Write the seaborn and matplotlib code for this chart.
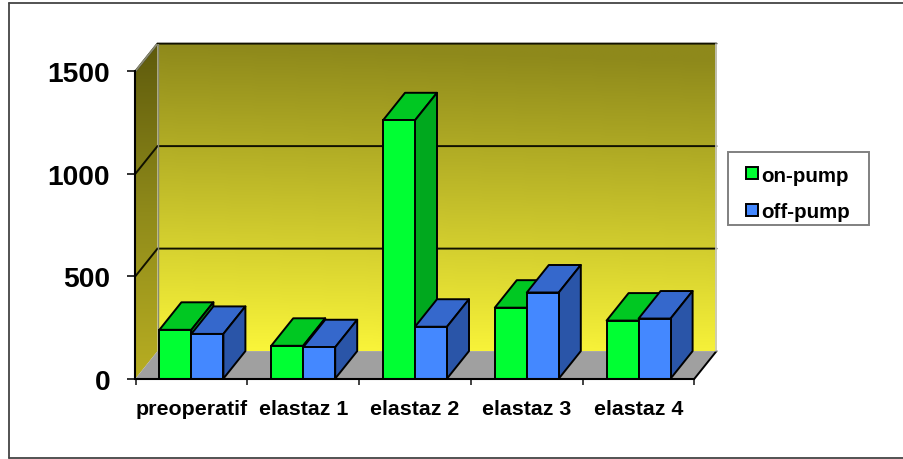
import numpy as np
import pandas as pd
import matplotlib
matplotlib.use("Agg")
import matplotlib.pyplot as plt
from matplotlib.colors import LinearSegmentedColormap
from matplotlib.lines import Line2D
from matplotlib.patches import Polygon, Rectangle
import seaborn as sns

categories = ["preoperatif", "elastaz 1", "elastaz 2", "elastaz 3", "elastaz 4"]
on_pump = [238, 160, 1260, 346, 283]
off_pump = [218, 153, 253, 420, 293]
y_ticks = [0, 500, 1000, 1500]

FRONT = {"on-pump": "#00ff33", "off-pump": "#4488ff"}
TOP = {"on-pump": "#00c822", "off-pump": "#3568cc"}
SIDE = {"on-pump": "#00a81e", "off-pump": "#2a55a8"}

W, H = 904, 460
sns.set_theme(style="white")
plt.rcParams["font.family"] = ["Liberation Sans", "DejaVu Sans"]
plt.rcParams["font.weight"] = "bold"

fig = plt.figure(figsize=(W / 100, H / 100), dpi=100, facecolor="white")
# Axes span the front plane plus the receding depth of the 3-D box
left, right, top, bottom = 135.5, 716.5, 44.6, 379.6
ax = fig.add_axes([left / W, 1 - bottom / H, (right - left) / W, (bottom - top) / H])
ax.patch.set_visible(False)

per_cat = (695 - 136) / 5
per_val = (379 - 71.5) / 1500
dx = 22 / per_cat
dy = 27.5 / per_val
x0, x1 = -0.5, 4.5
y1 = 1500

frame = pd.DataFrame({
    "category": categories * 2,
    "value": on_pump + off_pump,
    "series": ["on-pump"] * 5 + ["off-pump"] * 5,
})
sns.barplot(data=frame, x="category", y="value", hue="series", palette=FRONT,
            saturation=1, width=0.5725, gap=0, edgecolor="black", linewidth=1.4,
            ax=ax, zorder=6, err_kws={"linewidth": 0})

# Walls: gradient images, the left one clipped to its parallelogram
wall_cmap = LinearSegmentedColormap.from_list("wall", ["#fbf63a", "#8e891b"])
side_cmap = LinearSegmentedColormap.from_list("side", ["#b8ae22", "#8f8a1a", "#5e5a0c"])
ramp = np.linspace(0, 1, 256)[:, None] + 0.05 * np.linspace(0, 1, 64)[None, :]
ax.imshow(np.clip(ramp, 0, 1), origin="lower", aspect="auto", cmap=wall_cmap, vmin=0, vmax=1,
          extent=(x0 + dx, x1 + dx, dy, y1 + dy), zorder=1)
side_img = ax.imshow(np.linspace(0, 1, 256)[:, None], origin="lower", aspect="auto", cmap=side_cmap,
                     extent=(x0, x0 + dx, 0, y1 + dy), zorder=1)
side_clip = Polygon([(x0, 0), (x0 + dx, dy), (x0 + dx, y1 + dy), (x0, y1)], transform=ax.transData,
                    facecolor="none", edgecolor="none")
ax.add_patch(side_clip)
side_img.set_clip_path(side_clip)

# Floor of the box
ax.add_patch(Polygon([(x0, 0), (x1, 0), (x1 + dx, dy), (x0 + dx, dy)],
                     facecolor="#a0a0a0", edgecolor="none", zorder=2))
ax.plot([x1, x1 + dx], [0, dy], color="black", lw=1.4, zorder=3, clip_on=False)

# Gridlines wrap from the left wall across the back wall
for v in y_ticks[1:]:
    ax.plot([x0, x0 + dx, x1 + dx], [v, v + dy, v + dy], color="#111100", lw=1.4, zorder=3,
            clip_on=False, solid_joinstyle="miter")
ax.plot([x0 + dx, x0 + dx], [dy, y1 + dy], color="#8a8a70", lw=1, zorder=3)
ax.plot([x0, x0 + dx], [y1, y1 + dy], color="#8a8a70", lw=1.4, zorder=3)
ax.plot([x1 + dx, x1 + dx], [dy, y1 + dy], color="#c8c8c8", lw=1.2, zorder=3, clip_on=False)

# Depth faces of every bar, derived from the bars seaborn drew
for order, (container, name) in enumerate(zip(ax.containers, ["on-pump", "off-pump"])):
    z = 5 + order * 2
    for bar in container:
        x, w, h = bar.get_x(), bar.get_width(), bar.get_height()
        ax.add_patch(Polygon([(x, h), (x + w, h), (x + w + dx, h + dy), (x + dx, h + dy)],
                             facecolor=TOP[name], edgecolor="black", lw=1.4, zorder=z,
                             joinstyle="round"))
        ax.add_patch(Polygon([(x + w, 0), (x + w + dx, dy), (x + w + dx, h + dy), (x + w, h)],
                             facecolor=SIDE[name], edgecolor="black", lw=1.4, zorder=z,
                             joinstyle="round"))
        bar.set_zorder(z + 0.5)

ax.set_xlim(x0, x1 + dx)
ax.set_ylim(0, y1 + dy)
ax.set_xlabel("")
ax.set_ylabel("")

sns.despine(ax=ax, top=True, right=True)
for name in ("left", "bottom"):
    ax.spines[name].set_linewidth(1.5)
    ax.spines[name].set_color("black")
    ax.spines[name].set_zorder(8)
ax.spines["left"].set_bounds(0, y1)
ax.spines["bottom"].set_bounds(x0, x1)

ax.set_yticks(y_ticks)
ax.set_yticklabels([str(v) for v in y_ticks], fontsize=20.3, fontweight="bold", color="black")
ax.tick_params(axis="y", length=5.8, width=1.3, color="#222222", pad=12.5, left=True)

# Ticks sit between categories, labels centred on them
ax.set_xticks(np.arange(6) - 0.5)
ax.set_xticklabels([""] * 6)
ax.set_xticks(np.arange(5), labels=categories, minor=True)
ax.tick_params(axis="x", which="major", length=4, width=1.2, color="#222222", bottom=True)
ax.tick_params(axis="x", which="minor", length=0, pad=14.5, labelsize=15.4)
for label in ax.get_xticklabels(minor=True):
    label.set_fontweight("bold")
    label.set_color("black")

# Legend box is a separate frame behind a frameless legend
fig.add_artist(Rectangle((728 / W, 1 - 226 / H), 141 / W, 73 / H, transform=fig.transFigure,
                         facecolor="white", edgecolor="#808080", lw=1.4, zorder=-1))
handles, labels = ax.get_legend_handles_labels()
legend = ax.legend(handles, labels, loc="upper left",
                   bbox_to_anchor=(746.5 / W, 1 - 166.5 / H), bbox_transform=fig.transFigure,
                   frameon=False, labelcolor="black",
                   prop={"family": "Liberation Sans", "weight": "bold", "size": 14.8},
                   handlelength=0.54, handleheight=0.54, handletextpad=0.2,
                   borderpad=0, borderaxespad=0, labelspacing=0.85)
legend.set_zorder(20)

# Outer frame runs off the right edge of the figure
for xs, ys in [((8.5, 910), (3.5, 3.5)), ((8.5, 8.5), (3.5, 458.5)), ((8.5, 910), (458.5, 458.5))]:
    fig.add_artist(Line2D([x / W for x in xs], [1 - y / H for y in ys], color="#444444", lw=1.3))

fig.savefig("out.png", dpi=100)
